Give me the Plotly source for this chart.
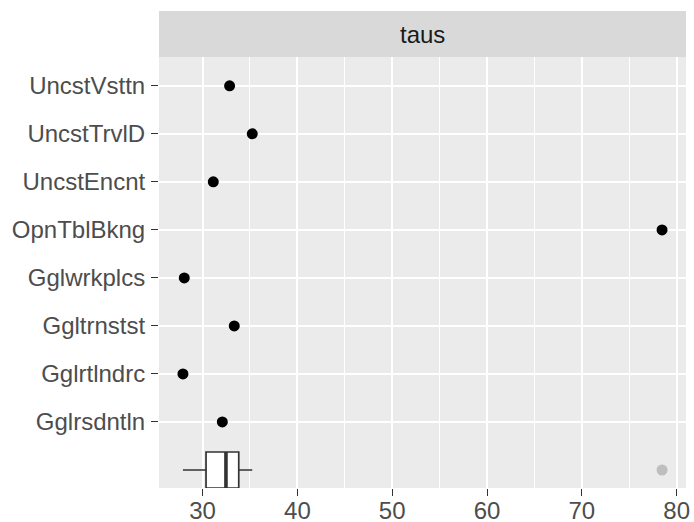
import numpy as np
import plotly.graph_objects as go

# ---- data ----
categories = ["Gglrsdntln", "Gglrtlndrc", "Ggltrnstst", "Gglwrkplcs",
              "OpnTblBkng", "UncstEncnt", "UncstTrvlD", "UncstVsttn"]
taus = [32.08, 27.93, 33.34, 28.07, 78.46, 31.13, 35.24, 32.85]
x_ticks = [30, 40, 50, 60, 70, 80]
facet_label = "taus"

# ---- derived ----
vals = np.array(taus)
pos = list(range(1, len(categories) + 1))
q1, med, q3 = np.percentile(vals, [25, 50, 75])
iqr = q3 - q1
inside = vals[(vals >= q1 - 1.5 * iqr) & (vals <= q3 + 1.5 * iqr)]
lo_f, hi_f = inside.min(), inside.max()
outliers = vals[(vals < q1 - 1.5 * iqr) | (vals > q3 + 1.5 * iqr)]
box_w = 0.75
pad = 0.05 * (vals.max() - vals.min())
xr = [vals.min() - pad, vals.max() + pad]
yr = [-box_w / 2, len(categories) + 0.6]

FONT = "Liberation Sans, Arial, sans-serif"
FS = 24

fig = go.Figure()
fig.add_trace(go.Box(
    orientation="h", y=[0], q1=[q1], median=[med], q3=[q3],
    lowerfence=[lo_f], upperfence=[hi_f], width=box_w,
    fillcolor="white", line=dict(color="#333333", width=1.7),
    whiskerwidth=0, boxpoints=False, showlegend=False, hoverinfo="skip"))
fig.add_trace(go.Scatter(
    x=[med, med], y=[-box_w / 2, box_w / 2], mode="lines",
    line=dict(color="#333333", width=3.6), showlegend=False, hoverinfo="skip"))
fig.add_trace(go.Scatter(
    x=outliers, y=[0] * len(outliers), mode="markers",
    marker=dict(color="#bebebe", size=11), showlegend=False))
fig.add_trace(go.Scatter(
    x=taus, y=pos, mode="markers",
    marker=dict(color="black", size=11), showlegend=False))

fig.update_layout(
    width=694, height=522,
    margin=dict(l=159, r=8, t=57, b=34, autoexpand=False),
    paper_bgcolor="white", plot_bgcolor="#ebebeb",
    font=dict(family=FONT, size=FS, color="#4d4d4d"),
    showlegend=False,
    xaxis=dict(range=xr, tickvals=x_ticks, ticks="outside", ticklen=7,
               tickwidth=1.4, tickcolor="#333333", showgrid=True,
               gridcolor="white", gridwidth=2, zeroline=False, showline=False,
               ticklabelstandoff=-6, automargin=False,
               tickfont=dict(family=FONT, size=FS, color="#4d4d4d"),
               minor=dict(dtick=5, tick0=25, showgrid=True, gridcolor="white",
                          gridwidth=1, ticks="")),
    yaxis=dict(range=yr, tickvals=pos, ticktext=categories, ticks="outside",
               ticklen=7, tickwidth=1.4, tickcolor="#333333", showgrid=True,
               gridcolor="white", gridwidth=2, zeroline=False, showline=False,
               ticklabelstandoff=1, automargin=False,
               tickfont=dict(family=FONT, size=FS, color="#4d4d4d")),
)

strip_h = 46 / 431
fig.add_shape(type="rect", xref="paper", yref="paper", x0=0, x1=1,
              y0=1, y1=1 + strip_h, fillcolor="#d9d9d9", line=dict(width=0),
              layer="below")
fig.add_annotation(text=facet_label, xref="paper", yref="paper", x=0.5,
                   y=1 + strip_h / 2, showarrow=False, yanchor="middle",
                   font=dict(family=FONT, size=FS, color="#1a1a1a"))

fig.write_html("out.html",
               config={"displayModeBar": False},
               post_script="document.body.style.margin='0';"
                           "document.body.style.overflow='hidden';")
